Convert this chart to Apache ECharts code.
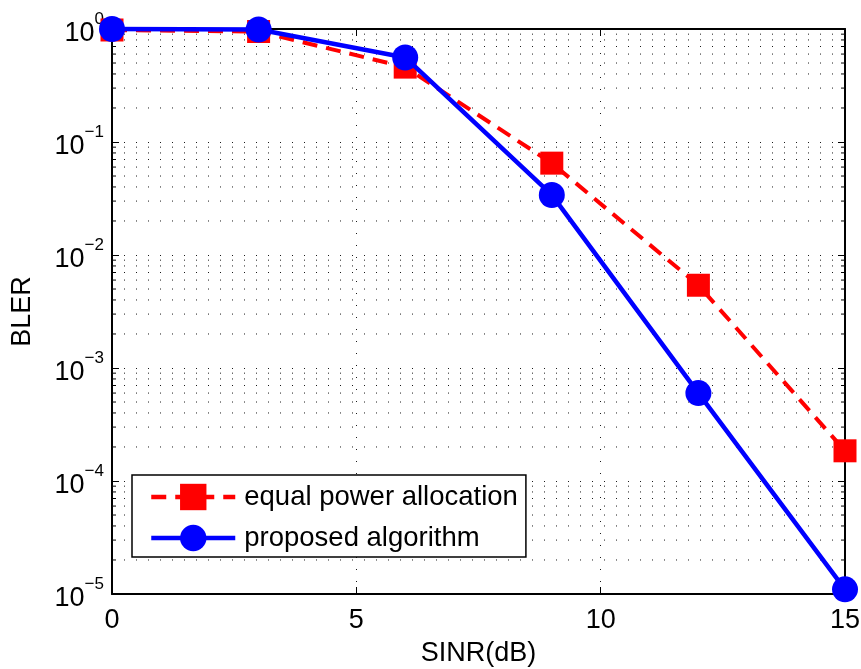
<!DOCTYPE html>
<html>
<head>
<meta charset="utf-8">
<title>BLER vs SINR</title>
<script src="https://cdn.jsdelivr.net/npm/echarts@6/dist/echarts.min.js"></script>
<style>
  html, body { margin: 0; padding: 0; background: #fff; }
  #chart { width: 861px; height: 669px; }
</style>
</head>
<body>
<div id="chart"></div>
<script>
// SINR operating points (dB)
const sinr = [0, 3, 6, 9, 12, 15];
// Block error rate with the power split evenly
const equalPower = [0.98, 0.95, 0.46, 0.065, 0.0054, 0.000185];
// Block error rate with the proposed allocation
const proposed = [1.0, 0.99, 0.56, 0.034, 0.0006, 0.000011];

const seriesNames = ['equal power allocation', 'proposed algorithm'];

// Axis ranges
const xMin = 0, xMax = 15, xStep = 5;
const yMin = 1e-5, yMax = 1;
// Minor log ticks inside each decade
const minorSteps = [2, 3, 4, 5, 6, 7, 8, 9];

const FONT = '"Liberation Sans", Arial, Helvetica, sans-serif';
const FS = 27;

const minorValues = [];
for (let e = Math.log10(yMin); e < Math.log10(yMax); e++) {
  minorSteps.forEach(m => minorValues.push([xMin, m * Math.pow(10, e)]));
}

function logLabel(v) {
  const e = Math.round(Math.log10(v));
  const s = String(e).replace('-', '\u2212');
  return '{b|10}{s|' + s + '}';
}

const chart = echarts.init(document.getElementById('chart'), null, { renderer: 'canvas' });

const dotted = { color: '#1a1a1a', width: 1, type: [1, 11] };

chart.setOption({
  backgroundColor: '#fff',
  animation: false,
  textStyle: { fontFamily: FONT },
  grid: { left: 112, right: 16, top: 29, bottom: 75, containLabel: false, outerBoundsMode: 'none' },
  legend: {
    data: seriesNames,
    orient: 'vertical',
    left: 132,
    top: 475,
    itemWidth: 84,
    itemHeight: 33,
    itemGap: 13,
    padding: [8, 8, 5, 17],
    backgroundColor: '#fff',
    borderColor: '#000',
    borderWidth: 1.5,
    borderRadius: 0,
    lineStyle: { width: 4.5 },
    textStyle: { fontSize: 27.5, color: '#000', fontFamily: FONT, padding: [0, 0, 0, 4] }
  },
  xAxis: [{
    type: 'value',
    min: xMin, max: xMax, interval: xStep,
    name: 'SINR(dB)',
    nameLocation: 'middle',
    nameGap: 46,
    nameTextStyle: { fontSize: FS, color: '#000', fontFamily: FONT },
    axisLine: { show: true, onZero: false, lineStyle: { color: '#000', width: 2 } },
    axisTick: { show: true, inside: true, length: 7, lineStyle: { color: '#000', width: 1 } },
    axisLabel: { fontSize: FS, color: '#000', margin: 13, fontFamily: FONT },
    splitLine: { show: true, lineStyle: dotted }
  }, {
    type: 'value',
    position: 'top',
    min: xMin, max: xMax, interval: xStep,
    axisLine: { show: true, onZero: false, lineStyle: { color: '#000', width: 2 } },
    axisTick: { show: true, inside: true, length: 7, lineStyle: { color: '#000', width: 1 } },
    axisLabel: { show: false },
    splitLine: { show: false }
  }],
  yAxis: [{
    type: 'log',
    logBase: 10,
    min: yMin, max: yMax,
    name: 'BLER',
    nameLocation: 'middle',
    nameGap: 76,
    nameTextStyle: { fontSize: FS, color: '#000', fontFamily: FONT },
    axisLine: { show: true, onZero: false, lineStyle: { color: '#000', width: 2 } },
    axisTick: { show: true, inside: true, length: 7, lineStyle: { color: '#000', width: 1 } },
    axisLabel: {
      margin: 8,
      formatter: logLabel,
      rich: {
        b: { fontSize: FS, color: '#000', fontFamily: FONT, verticalAlign: 'bottom', padding: [9, 0, 0, 0] },
        s: { fontSize: 17, color: '#000', fontFamily: FONT, verticalAlign: 'top' }
      }
    },
    splitLine: { show: true, lineStyle: dotted }
  }, {
    type: 'log',
    logBase: 10,
    position: 'right',
    min: yMin, max: yMax,
    axisLine: { show: true, onZero: false, lineStyle: { color: '#000', width: 2 } },
    axisTick: { show: true, inside: true, length: 7, lineStyle: { color: '#000', width: 1 } },
    axisLabel: { show: false },
    splitLine: { show: false }
  }],
  series: [{
    // minor decade grid lines with short ticks on both sides
    type: 'custom',
    name: 'minor',
    silent: true,
    z: 1,
    xAxisIndex: 0,
    yAxisIndex: 0,
    data: minorValues,
    renderItem: function (params, api) {
      const v = api.value(1);
      const a = api.coord([xMin, v]);
      const b = api.coord([xMax, v]);
      return {
        type: 'group',
        children: [{
          type: 'line',
          shape: { x1: a[0], y1: a[1], x2: b[0], y2: b[1] },
          style: { stroke: dotted.color, lineWidth: 1, lineDash: dotted.type }
        }, {
          type: 'line',
          shape: { x1: a[0], y1: a[1], x2: a[0] + 4, y2: a[1] },
          style: { stroke: '#000', lineWidth: 1 }
        }, {
          type: 'line',
          shape: { x1: b[0] - 4, y1: b[1], x2: b[0], y2: b[1] },
          style: { stroke: '#000', lineWidth: 1 }
        }]
      };
    }
  }, {
    name: seriesNames[0],
    type: 'line',
    z: 3,
    clip: false,
    data: sinr.map((x, i) => [x, equalPower[i]]),
    color: '#ff0000',
    symbol: 'rect',
    symbolSize: 23,
    lineStyle: { color: '#ff0000', width: 4, type: [15, 9] },
    itemStyle: { color: '#ff0000' }
  }, {
    name: seriesNames[1],
    type: 'line',
    z: 4,
    clip: false,
    data: sinr.map((x, i) => [x, proposed[i]]),
    color: '#0000ff',
    symbol: 'circle',
    symbolSize: 26,
    lineStyle: { color: '#0000ff', width: 4.5 },
    itemStyle: { color: '#0000ff' }
  }]
});
</script>
</body>
</html>
